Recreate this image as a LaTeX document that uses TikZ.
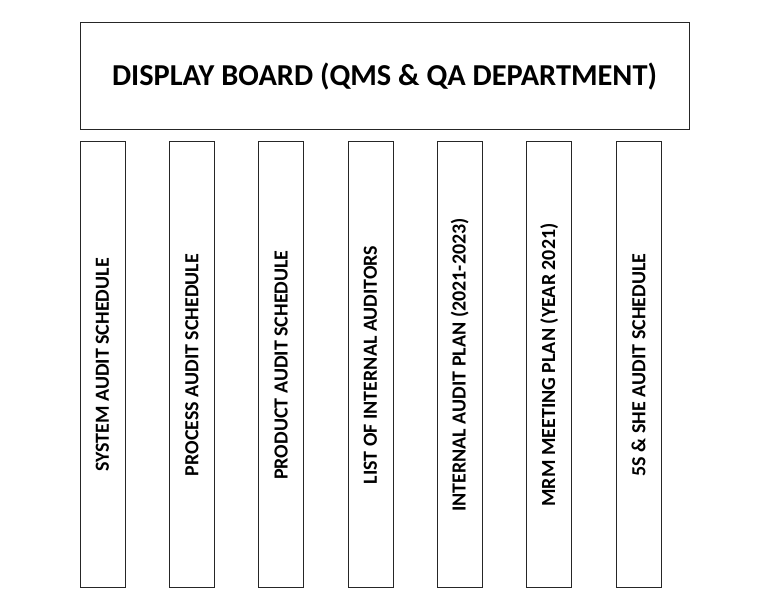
\documentclass[tikz,border=0pt]{standalone}
\usepackage{fontspec}
\setmainfont{Carlito}
\begin{document}
\begin{tikzpicture}[x=1pt,y=1pt,
  board/.style={draw=black!85,line width=1pt,minimum width=609pt,minimum height=107pt,inner sep=0pt,font=\bfseries\fontsize{30.4}{36}\selectfont},
  strip/.style={draw=black!85,line width=1pt,minimum width=45pt,minimum height=446pt,inner sep=0pt},
  vlabel/.style={rotate=90,font=\bfseries\fontsize{20}{24}\selectfont}]
\useasboundingbox (0,0) rectangle (768,594);
\node[board] (title) at (384.5,517.5) {DISPLAY BOARD (QMS \& QA DEPARTMENT)};
\foreach \i/\x/\t in {1/102.5/SYSTEM AUDIT SCHEDULE,
                      2/191.8/PROCESS AUDIT SCHEDULE,
                      3/281.1/PRODUCT AUDIT SCHEDULE,
                      4/370.5/LIST OF INTERNAL AUDITORS,
                      5/459.8/INTERNAL AUDIT PLAN (2021-2023),
                      6/549.2/MRM MEETING PLAN (YEAR 2021),
                      7/638.5/5S \& SHE AUDIT SCHEDULE}{
  \node[strip] (s\i) at (\x,229) {};
  \node[vlabel] (t\i) at (s\i.center) {\t};
}
\end{tikzpicture}
\end{document}
